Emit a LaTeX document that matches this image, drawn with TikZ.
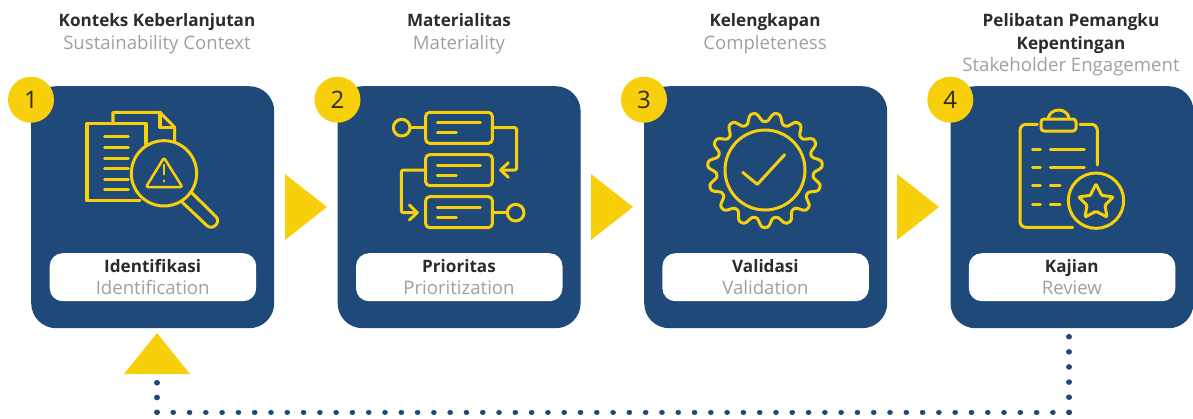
\documentclass[tikz,border=0pt]{standalone}
\usepackage{fontspec}
\setmainfont{Open Sans}
\definecolor{cardblue}{HTML}{1F4979}
\definecolor{gold}{HTML}{F7CF0A}
\definecolor{darktext}{HTML}{2B2B2B}
\definecolor{greytext}{HTML}{A0A0A0}
\tikzset{
  card/.style={fill=cardblue,rounded corners=25pt,minimum width=243pt,minimum height=242pt,inner sep=0pt,anchor=north west},
  pill/.style={fill=white,rounded corners=13pt,minimum width=206.5pt,minimum height=48pt,inner sep=0pt,anchor=north west},
  badge/.style={circle,fill=gold,minimum size=46pt,inner sep=0pt,text=darktext,font=\fontsize{24}{24}\selectfont},
  ttl/.style={anchor=base,inner sep=0pt,text=darktext,font=\fontsize{17.1}{20}\selectfont\bfseries},
  sub/.style={anchor=base,inner sep=0pt,text=greytext,font=\fontsize{18.6}{20}\selectfont},
  icon/.style={draw=gold,line width=3pt,line cap=round,line join=round},
  dots/.style={draw=cardblue,line width=5.6pt,line cap=round},
}
\begin{document}
\begin{tikzpicture}[x=1pt,y=-1pt]
\useasboundingbox (0,0) rectangle (1193,418);
% cards
\node[card] (c1) at (31,86) {};
\node[card] (c2) at (337.4,86) {};
\node[card] (c3) at (644,86) {};
\node[card] (c4) at (950.3,86) {};
% pills
\node[pill] (p1) at (49.5,253) {};
\node[pill] (p2) at (355.8,253) {};
\node[pill] (p3) at (662.2,253) {};
\node[pill] (p4) at (968.6,253) {};
% badges
\node[badge] (b1) at (31,99.7) {1};
\node[badge] (b2) at (337.5,99.7) {2};
\node[badge] (b3) at (644,99.7) {3};
\node[badge] (b4) at (950.3,99.7) {4};
% heading text
\node[ttl] (t1) at (157,26) {Konteks Keberlanjutan};
\node[sub] (s1) at (157,49) {Sustainability Context};
\node[ttl] (t2) at (459,26) {Materialitas};
\node[sub] (s2) at (459,49) {Materiality};
\node[ttl] (t3) at (765,26) {Kelengkapan};
\node[sub] (s3) at (765,49) {Completeness};
\node[ttl] (t4) at (1071,26) {Pelibatan Pemangku};
\node[ttl] (t4b) at (1071,49) {Kepentingan};
\node[sub] (s4) at (1071,71) {Stakeholder Engagement};
% pill text
\node[ttl] (l1) at (152.7,272) {Identifikasi};
\node[sub] (m1) at (152.7,294) {Identification};
\node[ttl] (l2) at (459,272) {Prioritas};
\node[sub] (m2) at (459,294) {Prioritization};
\node[ttl] (l3) at (765.4,272) {Validasi};
\node[sub] (m3) at (765.4,294) {Validation};
\node[ttl] (l4) at (1071.8,272) {Kajian};
\node[sub] (m4) at (1071.8,294) {Review};
% arrows
\fill[gold] (285,174) -- (327,207) -- (285,240) -- cycle;
\fill[gold] (591,174) -- (633,207) -- (591,240) -- cycle;
\fill[gold] (897,174) -- (939,207) -- (897,240) -- cycle;
\fill[gold] (157,333) -- (190,374) -- (124,374) -- cycle;
% dotted return
\coordinate (r0) at (1069.2,336.7);
\coordinate (r1) at (1069.2,412.3);
\coordinate (r2) at (157,412.3);
\coordinate (r3) at (157,382.7);
\draw[dots,dash pattern=on 0.01pt off 15.11pt] (r0) -- (r1);
\draw[dots,dash pattern=on 0.01pt off 16.28pt] (r1) -- (r2);
\draw[dots,dash pattern=on 0.01pt off 14.79pt] (r2) -- (r3);
% icon 1
\begin{scope}[shift={(0,70)},scale=1/3]
\draw[icon] (339,155) -- (339,127) -- (480,127) -- (524,172) -- (524,215);
\draw[icon] (480,127) -- (480,172) -- (524,172);
\draw[icon] (438,222) -- (438,161) -- (261,161) -- (261,392) -- (420,392);
\foreach \yy in {199,231,264,296,327,358} \draw[icon] (314,\yy) -- (385,\yy);
\draw[icon] (492,310) circle[radius=98];
\draw[icon] (573,366) -- (648,440) .. controls (664,456) and (638,484) .. (620,466) -- (547,397);
\draw[icon,line width=2.5pt,rounded corners=2pt] (492,263) -- (547,351) -- (438,351) -- cycle;
\draw[icon,line width=2.5pt] (492,285) -- (492,313);
\draw[icon,line width=2.5pt] (492,332) -- (492,334);
\end{scope}
% icon 2
\begin{scope}[shift={(310,70)},scale=1/3]
\foreach \yy in {127,254,380} {
  \draw[icon,rounded corners=4pt] (347,\yy) rectangle (547,\yy+93);
  \draw[icon] (382,\yy+31) -- (511,\yy+31);
  \draw[icon] (382,\yy+61) -- (439,\yy+61);
}
\draw[icon] (275,173) circle[radius=25];
\draw[icon] (300,173) -- (347,173);
\draw[icon,rounded corners=2pt] (547,173) -- (620,173) -- (620,300) -- (575,300);
\draw[icon] (595,278) -- (572,300) -- (595,322);
\draw[icon,rounded corners=2pt] (347,300) -- (274,300) -- (274,428) -- (320,428);
\draw[icon] (298,405) -- (322,428) -- (298,450);
\draw[icon] (617,428) circle[radius=25];
\draw[icon] (547,428) -- (592,428);
\end{scope}
% icon 3
\begin{scope}[shift={(620,70)},scale=1/3]
\draw[icon] (435,300) circle[radius=120];
\draw[icon] plot[domain=0:360,samples=361,variable=\t] ({435+(159+13.5*(1.1*cos(15*(\t-180))-0.1*cos(45*(\t-180))))*sin(\t)},{300-(159+13.5*(1.1*cos(15*(\t-180))-0.1*cos(45*(\t-180))))*cos(\t)}) -- cycle;
\draw[icon] (368,307) -- (412,343) -- (494,254);
\end{scope}
% icon 4
\begin{scope}[shift={(920,70)},scale=1/3]
\draw[icon,rounded corners=6pt] (352,163) -- (300,163) -- (300,472) -- (458,472);
\draw[icon,rounded corners=6pt] (480,163) -- (532,163) -- (532,285);
\draw[icon,rounded corners=3pt] (363,147) rectangle (468,183);
\draw[icon] (385,147) arc[start angle=180,end angle=0,x radius=31,y radius=-27];
\foreach \yy in {239,293} {
  \draw[icon] (338,\yy) -- (361,\yy);
  \draw[icon] (391,\yy) -- (493,\yy);
}
\foreach \yy in {347,402} {
  \draw[icon] (338,\yy) -- (361,\yy);
  \draw[icon] (391,\yy) -- (420,\yy);
}
\draw[icon] (528,392) circle[radius=83];
\draw[icon,rounded corners=1pt] (528,342) -- (545,376) -- (580,381) -- (555,406) -- (561,441) -- (528,424) -- (495,441) -- (501,406) -- (476,381) -- (511,376) -- cycle;
\end{scope}
\end{tikzpicture}
\end{document}
